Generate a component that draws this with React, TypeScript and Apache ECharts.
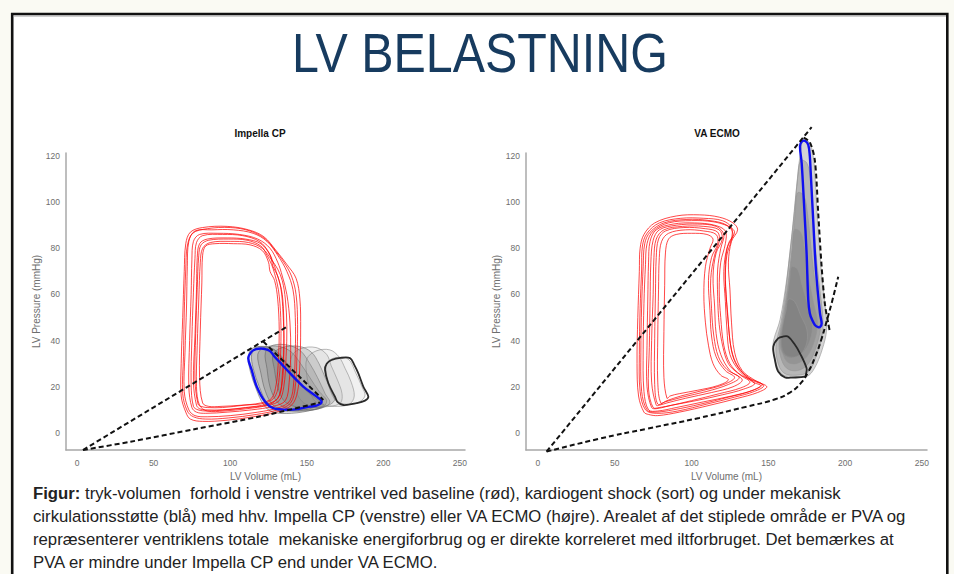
import React, { useEffect, useRef } from "react";
import * as echarts from "echarts";

type P = [number, number];

// ---------- texts ----------
const slideTitle = "LV BELASTNING";
const panelTitles = ["Impella CP", "VA ECMO"];
const xAxisName = "LV Volume (mL)";
const yAxisName = "LV Pressure (mmHg)";
const captionBold = "Figur:";
const captionLines = [
  " tryk-volumen  forhold i venstre ventrikel ved baseline (rød), kardiogent shock (sort) og under mekanisk",
  "cirkulationsstøtte (blå) med hhv. Impella CP (venstre) eller VA ECMO (højre). Arealet af det stiplede område er PVA og",
  "repræsenterer ventriklens totale  mekaniske energiforbrug og er direkte korreleret med iltforbruget. Det bemærkes at",
  "PVA er mindre under Impella CP end under VA ECMO.",
];

// ---------- ticks ----------
const xTicks = [0, 50, 100, 150, 200, 250];
const yTicks = [0, 20, 40, 60, 80, 100, 120];

// ---------- Impella CP panel ----------
const impellaBaseline: P[][] = [
  [[71,9],[68,16],[68,30],[69,50],[70,70],[71,82],[74,87],[82,89],[98,89.5],[112,88],[122,85],[130,79],[137,73],[143,67],[145.5,58],[146,45],[145.5,30],[144,18],[140,12],[130,9],[115,7],[98,5.5],[82,5],[74,6]],
  [[73,10],[70,18],[70.5,35],[71.5,55],[72,72],[73,83],[77,87.5],[88,88],[102,88],[115,86.5],[124,83],[131,77],[137,70],[141,62],[142.5,50],[142.5,35],[141.5,22],[139,14],[132,11],[118,9],[100,7.5],[85,7],[77,7.5]],
  [[75,11],[73,20],[73.5,40],[74.5,60],[75,75],[76,83],[80,86],[92,86.5],[106,86],[118,84],[126,80],[131,74],[134,68],[137,60],[139,48],[139.5,35],[138.5,22],[136,14],[128,11.5],[114,10],[98,9],[84,8.5],[78,9]],
  [[78,12],[76,22],[77,42],[78,62],[78.5,76],[80,82],[85,84],[98,84.5],[110,84],[120,82],[126,77],[128,72],[131,68],[134,60],[135,48],[135,34],[134,22],[131,15],[124,12.5],[110,11],[95,10],[84,10],[80,10.5]],
  [[82,13],[80,24],[80.5,45],[81.5,65],[82,77],[84,81],[90,82],[102,82],[113,81.5],[121,79],[125,74],[126,70],[129,66],[131,58],[132,45],[131.5,32],[130,21],[127,15],[120,13],[107,12],[94,11.5],[86,11.5]],
  [[80,12],[78,20],[78.5,38],[79.5,58],[80.5,74],[82,80],[87,82.5],[100,83],[112,82.5],[121,80],[127,75],[131,71],[134,66],[136,58],[137,46],[136.5,33],[135,20],[132,14],[125,12],[111,10.5],[96,9.5],[85,9.5]],
  [[72,9.5],[69,17],[69.5,33],[70,52],[71,71],[72,81],[75.5,86.5],[85,88.5],[100,89],[113,87.5],[123,84],[130,78.5],[135,74],[140,68],[143,60],[144,47],[143.5,32],[142.5,20],[139.5,13],[131,10],[117,8],[99,6.5],[84,6],[76,7]],
  [[76,11.5],[74.5,21],[75,41],[76,61],[77,75.5],[78,82.5],[82,85.5],[95,86],[108,85.5],[119,83],[125,78.5],[128,74],[130,70],[133,63],[134.5,52],[135,38],[134,25],[132,16],[126,12.5],[112,11],[97,10],[85,9.5],[79,10]],
  [[79,12.5],[77,23],[77.5,43],[78.5,63],[79.5,77],[81,81.5],[86,83.5],[99,84],[111,83.5],[120,81],[124,77],[127,73],[129,69],[131.5,62],[133,50],[133,36],[132,24],[129.5,16],[123,13],[109,12],[95,11],[85,11],[81,11.5]],
];
const impellaShockEarly: P[][] = [
  [[112,33],[114,36.5],[122,37.5],[129,36],[135,31],[142,24],[150,18],[158,14],[161,12],[154,10],[140,8.5],[128,9],[122,12],[117,19],[113,27]],
  [[114,34],[117,37],[125,37],[131,35],[137,30],[144,23],[152,17],[158,13],[152,10.5],[140,9.5],[130,10],[124,13],[119,20],[115,28]],
  [[118,34],[122,37],[132,37.5],[140,35],[146,30],[152,24],[158,18],[163,14],[160,11],[148,9.5],[136,10],[128,12],[123,18],[120,26]],
  [[123,35],[128,38],[138,38],[146,35.5],[152,30],[157,24],[162,17],[165,13],[158,10.5],[146,10],[136,11],[130,14],[126,20],[124,28]],
  [[128,34],[134,37],[145,37.5],[153,35],[158,30],[162,24],[166,18],[168,14],[162,11.5],[152,11],[142,11.5],[135,14],[131,20],[129,27]],
];
const impellaShockLate: P[][] = [
  [[140,33],[146,36.5],[156,37],[163,34],[166,29],[170,23],[173,17],[172,13],[165,11.5],[155,11.5],[148,13],[143,18],[141,25]],
  [[150,32],[156,35.5],[165,36],[171,33],[175,28],[179,22],[181,16],[178,12.5],[170,11.5],[162,12],[155,14],[152,19],[150,25]],
  [[163,30],[168,32.5],[177,32],[182,26],[186,20],[188,16],[183,13],[175,12.5],[169,14],[165,19],[163,25]],
];
const impellaShockFinal: P[] = [[166.2,31.6],[172,32.5],[178.2,32.4],[181,29.5],[183.6,25.9],[186.9,20.1],[190.2,15.7],[188,14],[182.6,12.9],[173.8,12.1],[170,13.5],[168.4,15.7],[164.1,21.5],[161.9,27.3],[163,30]];
const impellaSupport: P[] = [[111.8,32.3],[113.9,35.2],[117,36.3],[121.6,36.5],[126,35.5],[129,33],[134,29.5],[139,25.9],[147.7,20.1],[156.5,15.7],[159.7,13.6],[157,12],[152.1,11.4],[145,10.5],[139,10],[128.1,10.7],[122.7,13.6],[117.3,20.1],[114,27.3]];
const impellaESPVR: P[] = [[3.9,-7.4],[138,46.4]];
const impellaEDPVR: P[] = [[3.9,-7.4],[35,-3.8],[78,1.8],[120,7.2],[158.6,13.2]];
const impellaPVAEdge: P[] = [[121.6,39.6],[160.8,14.3]];

// ---------- VA ECMO panel ----------
const ecmoBaseline: P[][] = [
  [[69,9],[65.5,16],[64.5,30],[65,50],[66,70],[66.5,80],[69,86],[76,91],[90,94],[105,94.5],[118,93.5],[127,91],[130,88],[126,83],[124,74],[125,62],[126,48],[128,35],[133,27],[142,22.5],[149,20],[143,17.5],[130,15],[112,12],[92,9],[78,7.5],[72,8]],
  [[71,10],[67.5,18],[67,35],[67.5,55],[68.5,72],[69.5,82],[73,87],[82,91],[97,92.5],[112,92],[123,90],[127,86],[123,80],[121,70],[122,57],[123,45],[125,34],[131,27],[140,22],[145,20.5],[138,18],[124,15.5],[106,12.5],[88,10],[76,9]],
  [[74,11],[71,20],[71,38],[71.5,58],[72,74],[73,83],[77,88],[88,90.5],[102,91],[115,90],[122,87.5],[122,82],[119,74],[118,62],[119,50],[121,38],[125,30],[132,25],[138,22],[132,19.5],[118,17],[100,14],[84,11.5],[77,10.5]],
  [[77,12],[74,22],[74,40],[75,60],[75.5,76],[77,84],[82,88],[94,89.5],[108,89.5],[118,88],[120,84],[116,78],[114,68],[115,55],[116,43],[119,34],[125,27],[133,23],[127,20],[113,17.5],[96,15],[84,13],[79,12]],
  [[80,13],[78,22],[78,42],[78.5,62],[79,76],[80.5,83],[85,86.5],[96,88],[108,87.5],[116,86],[117,82],[113,76],[111,66],[112,53],[113,42],[116,33],[122,27],[128,24],[121,21],[108,18.5],[93,16],[84,14]],
  [[84,15],[82,24],[82,44],[82.5,64],[83,78],[85,84],[90,86],[100,86.5],[110,86],[114,84],[112,80],[109,72],[108,60],[109,48],[111,38],[114,30],[119,25],[124,23],[117,20.5],[104,18.5],[92,17],[86,16]],
  [[72,10],[69,18],[68.5,36],[69,56],[70,73],[71,82],[75,87.5],[85,91],[100,92],[114,91.5],[124,89.5],[128,87],[124,82],[122,73],[122.5,60],[124,47],[126,36],[130,29],[137,24],[146,21],[140,18.5],[126,16],[108,13.5],[90,11],[78,9.5]],
  [[75,11],[72,19],[72.5,37],[73,57],[73.5,74],[75,83.5],[79,88],[90,90],[104,90.5],[116,89.5],[121,86],[119,80],[117,71],[117,59],[118,47],[120.5,37],[124,30],[130,26],[141,21.5],[134,19],[120,16.5],[103,14],[87,12],[79,11]],
  [[78,12.5],[76,21],[76,41],[76.5,61],[77,76],[78.5,84],[83,87.5],[95,89],[109,88.5],[117,87],[118,83],[115,77],[112.5,67],[113,54],[114.5,42],[117.5,33],[123,27.5],[131,24],[124,21],[110,18],[94,15.5],[83,13.5]],
  [[70,10],[66.5,18],[66,34],[66.5,54],[67.5,71],[68,81],[71,86.5],[79,91],[93,93],[108,93],[120,92],[126,89],[126,84],[123,77],[122,66],[123.5,52],[125,40],[127.5,32],[132,27],[139,23],[147,20.5],[141,18],[128,15.5],[110,12.5],[91,9.5],[77,8.5]],
];
const ecmoShock: P[][] = [
  [[172.7,127],[176.5,126],[179,121],[180.5,110],[182,92],[184.5,70],[187,55],[188,45],[185,36],[180,28],[174.9,24.4],[165,24.5],[159.7,25.1],[155.5,29],[153.2,36],[153.5,40.3],[157.6,49],[161.9,66.3],[165.2,85],[168.4,106.7],[170.6,120]],
  [[171,118],[175,117],[177.5,110],[179,95],[181,78],[183.5,62],[185.5,50],[185,42],[181,33],[176,26.5],[168,25],[160,26],[156,31],[155,38],[158,47],[161,60],[164,78],[167,96],[169,110]],
  [[169,104],[173,103],[175.5,95],[177.5,82],[180,67],[183,55],[184,46],[181,37],[176,30],[169,27],[162,28],[158,33],[157,40],[159.5,50],[162.5,63],[165.5,80],[167.5,95]],
  [[167,88],[171,87],[173.5,80],[176,68],[179.5,56],[182,48],[180,40],[175,33],[168,30],[162,31],[159,36],[159,43],[161,52],[163.5,66],[165.5,79]],
  [[165,72],[169,71],[172,64],[175.5,56],[178.5,49],[178,42],[173.5,35.5],[167,33],[161,34],[158.5,39],[159.5,47],[162,58],[164,67]],
  [[163,58],[167,57],[171,51],[175,45],[175,39],[171,34],[165,32.5],[160,34],[157.5,38.5],[159,46],[161.5,53]],
];
const ecmoShockFinal: P[] = [[153.2,37.4],[156.4,41],[160,41.8],[163,41.7],[167,38.5],[170.6,34.5],[174.9,28],[174.5,25.5],[173.8,24.4],[166,24],[160.8,24.1],[156.4,26.6],[154.3,31.6]];
const ecmoSupport: P[] = [[171.7,126.2],[174,126.5],[176,124.8],[177,120],[177.5,114],[179.2,92.3],[181,70.6],[183.6,51.9],[184.7,47.5],[183.8,46],[182.5,45.8],[180.3,46.8],[178.5,49],[177,51.9],[176,57.6],[174.9,77.9],[173.2,99.5],[171.7,116.9],[170.6,124.1]];
const ecmoESPVR: P[] = [[5.6,-8.1],[178.2,132.5]];
const ecmoEDPVR: P[] = [[5.6,-8.1],[40,-2.5],[70.8,1.8],[105,6.5],[135.9,11.4],[154,14.5],[164,17.5],[171,21.5],[176,26.5],[180.5,33],[184.5,40.5],[188,48.5],[191.5,57],[195.5,67.7]];
const ecmoPVAEdge: P[] = [[173,128],[177,126],[180.3,118],[182.5,95],[184.7,72],[186.8,56],[189,47.5],[190,44]];

const BASE_FONT = '"Liberation Sans", Arial, sans-serif';
const TITLE_FONT = '"Liberation Sans Narrow", "Liberation Sans", Arial, sans-serif';

function measure(text: string, font: string): number {
  const ctx = document.createElement("canvas").getContext("2d");
  if (!ctx) return text.length * 8;
  ctx.font = font;
  return ctx.measureText(text).width;
}

function loopSeries(loops: P[][], idx: number, stroke: string, width: number, fill: string, z: number) {
  return {
    type: "custom",
    xAxisIndex: idx,
    yAxisIndex: idx,
    coordinateSystem: "cartesian2d",
    silent: true,
    z,
    clip: false,
    data: loops.map((_, i) => [i, 0]),
    renderItem: (params: any, api: any) => {
      const loop = loops[params.dataIndex];
      return {
        type: "polygon",
        shape: { points: loop.map((p) => api.coord(p)), smooth: 0.35 },
        style: { fill, stroke, lineWidth: width },
      };
    },
  };
}

function dashSeries(data: P[], idx: number, smooth: number) {
  return {
    type: "line",
    xAxisIndex: idx,
    yAxisIndex: idx,
    data,
    symbol: "none",
    smooth,
    clip: false,
    silent: true,
    z: 6,
    lineStyle: { color: "#111", width: 2, type: [5, 3] },
  };
}

export default function App() {
  const ref = useRef<HTMLDivElement>(null);

  useEffect(() => {
    if (!ref.current) return;
    const chart = echarts.init(ref.current, null, { renderer: "svg" });

    const titleSize = 56;
    const titleScale = 376 / measure(slideTitle, `normal normal ${titleSize}px ${TITLE_FONT}`);
    const capSize = 17;
    const capScale = 876 / measure(captionLines[1], `normal normal ${capSize}px ${BASE_FONT}`);

    const grids = [
      { left: 66, top: 153, width: 399, height: 297 },
      { left: 526, top: 153, width: 401, height: 297 },
    ];
    const xRanges = [[-7.2, 253.3], [-7.8, 253.3]];

    const axisLine = { show: true, onZero: false, lineStyle: { color: "#a8a8a8", width: 1.5 } };
    const xAxes = xRanges.map((r, i) => ({
      gridIndex: i,
      type: "value",
      min: r[0],
      max: r[1],
      axisLine,
      axisTick: { show: false },
      splitLine: { show: false },
      axisLabel: { customValues: xTicks, color: "#6e6e6e", fontSize: 8.5, margin: 8, fontFamily: BASE_FONT },
      name: xAxisName,
      nameLocation: "middle",
      nameGap: 12,
      nameTextStyle: { color: "#6e6e6e", fontSize: 10, fontFamily: BASE_FONT },
    }));
    const yAxes = [0, 1].map((i) => ({
      gridIndex: i,
      type: "value",
      min: -7.4,
      max: 121.3,
      axisLine,
      axisTick: { show: false },
      splitLine: { show: false },
      axisLabel: { customValues: yTicks, color: "#6e6e6e", fontSize: 8.5, margin: 6, fontFamily: BASE_FONT },
      name: yAxisName,
      nameLocation: "middle",
      nameGap: 25,
      nameTextStyle: { color: "#6e6e6e", fontSize: 10, fontFamily: BASE_FONT },
    }));

    const red = "rgba(255,0,0,0.8)";
    const grayStroke = "rgba(100,100,100,0.75)";
    const series: any[] = [
      loopSeries(impellaShockEarly, 0, grayStroke, 0.8, "rgba(120,120,120,0.26)", 1),
      loopSeries(impellaShockLate, 0, "rgba(130,130,130,0.7)", 0.8, "rgba(170,170,170,0.16)", 1),
      loopSeries(impellaBaseline, 0, red, 0.9, "none", 2),
      loopSeries([impellaShockFinal], 0, "#2a2a2a", 1.8, "none", 3),
      loopSeries([impellaSupport], 0, "#1010f0", 2.4, "none", 4),
      dashSeries(impellaESPVR, 0, 0),
      dashSeries(impellaEDPVR, 0, 0.3),
      dashSeries(impellaPVAEdge, 0, 0),
      loopSeries(ecmoShock, 1, "rgba(150,150,150,0.8)", 0.8, "rgba(115,115,115,0.3)", 1),
      loopSeries(ecmoBaseline, 1, red, 0.9, "none", 2),
      loopSeries([ecmoShockFinal], 1, "#2a2a2a", 1.8, "none", 3),
      loopSeries([ecmoSupport], 1, "#1010f0", 2.4, "none", 4),
      dashSeries(ecmoESPVR, 1, 0),
      dashSeries(ecmoEDPVR, 1, 0.5),
      dashSeries(ecmoPVAEdge, 1, 0.3),
    ];

    const captionY = [493, 516, 539, 562];
    const graphic: any[] = [
      {
        type: "rect",
        z: -10,
        silent: true,
        shape: { x: 12.2, y: 14, width: 935.1, height: 640 },
        style: { fill: "#ffffff", stroke: "#111111", lineWidth: 2.6 },
      },
      {
        type: "line",
        z: -9,
        silent: true,
        shape: { x1: 13.6, y1: 16, x2: 946, y2: 16 },
        style: { stroke: "#a0a0a0", lineWidth: 1 },
      },
      {
        type: "text",
        x: 480,
        y: 53,
        scaleX: titleScale,
        silent: true,
        style: {
          text: slideTitle,
          fontSize: titleSize,
          fontFamily: TITLE_FONT,
          fill: "#173b5f",
          align: "center",
          verticalAlign: "middle",
        },
      },
      ...panelTitles.map((t, i) => ({
        type: "text",
        x: i === 0 ? 260 : 717,
        y: 133,
        silent: true,
        style: {
          text: t,
          fontSize: 10,
          fontWeight: "bold",
          fontFamily: BASE_FONT,
          fill: "#111",
          align: "center",
          verticalAlign: "middle",
        },
      })),
      ...captionLines.map((line, i) => ({
        type: "text",
        x: 33,
        y: captionY[i],
        scaleX: capScale,
        silent: true,
        style: {
          text: i === 0 ? `{b|${captionBold}}${line}` : line,
          rich: { b: { fontWeight: "bold", fontSize: capSize, fontFamily: BASE_FONT, fill: "#222" } },
          fontSize: capSize,
          fontFamily: BASE_FONT,
          fill: "#222",
          align: "left",
          verticalAlign: "middle",
        },
      })),
    ];

    chart.setOption({
      animation: false,
      backgroundColor: "#fafaf3",
      textStyle: { fontFamily: BASE_FONT },
      grid: grids,
      xAxis: xAxes,
      yAxis: yAxes,
      series,
      graphic,
    } as any);

    return () => chart.dispose();
  }, []);

  return (
    <div
      ref={ref}
      style={{ position: "fixed", left: 0, top: 0, width: 954, height: 574 }}
    />
  );
}
